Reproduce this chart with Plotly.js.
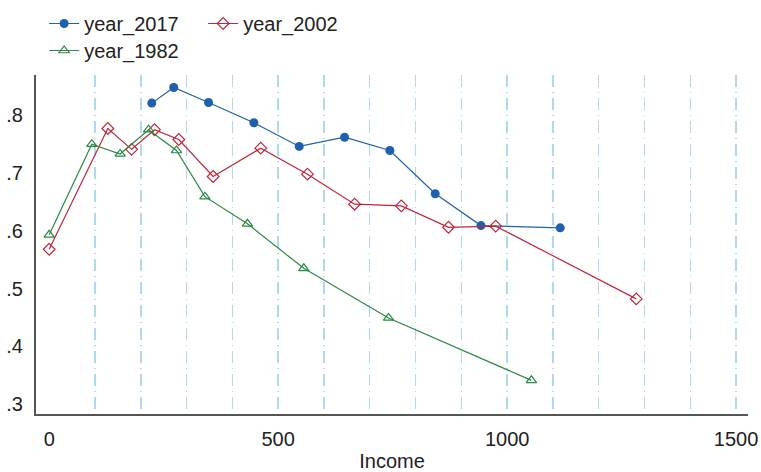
<!DOCTYPE html>
<html>
<head>
<meta charset="utf-8">
<script src="https://cdn.plot.ly/plotly-3.0.1.min.js"></script>
<style>html,body{margin:0;padding:0;background:#fff;}#chart{width:761px;height:472px;}</style>
</head>
<body>
<div id="chart"></div>
<script>
var income_2017 = [224, 272, 348, 447, 546, 645, 744, 843, 943, 1116];
var share_2017  = [0.821, 0.848, 0.822, 0.787, 0.746, 0.762, 0.739, 0.664, 0.609, 0.605];
var income_2002 = [0, 128, 180, 230, 283, 358, 462, 564, 667, 769, 872, 975, 1282];
var share_2002  = [0.568, 0.777, 0.741, 0.775, 0.758, 0.694, 0.743, 0.698, 0.646, 0.643, 0.606, 0.608, 0.482];
var income_1982 = [0, 93, 155, 217, 278, 340, 433, 556, 741, 1053];
var share_1982  = [0.593, 0.750, 0.733, 0.775, 0.739, 0.659, 0.612, 0.535, 0.449, 0.341];

var seriesNames = ['year_2017', 'year_2002', 'year_1982'];
var xTickVals = [0, 500, 1000, 1500];
var xTickText = ['0', '500', '1000', '1500'];
var xGridVals = [100, 200, 300, 400, 500, 600, 700, 800, 900, 1000, 1100, 1200, 1300, 1400, 1500];
var yTickVals = [0.3, 0.4, 0.5, 0.6, 0.7, 0.8];
var yTickText = ['.3', '.4', '.5', '.6', '.7', '.8'];
var xTitle = 'Income';

var BLUE = '#1e60ad', RED = '#c2253a', GREEN = '#2b8a45';
var FONT = 'Liberation Sans, Arial, Helvetica, sans-serif';
var FS = 20;

var traces = [
  {x: income_2017, y: share_2017, name: seriesNames[0], type: 'scatter', mode: 'lines+markers',
   xaxis: 'x', yaxis: 'y',
   line: {color: BLUE, width: 1.2}, marker: {symbol: 'circle', size: 9, color: BLUE}, legend: 'legend'},
  {x: income_2002, y: share_2002, name: seriesNames[1], type: 'scatter', mode: 'lines+markers',
   xaxis: 'x', yaxis: 'y',
   line: {color: RED, width: 1.2}, marker: {symbol: 'diamond-open', size: 9, color: RED, line: {width: 1.2}}, legend: 'legend'},
  {x: income_1982, y: share_1982, name: seriesNames[2], type: 'scatter', mode: 'lines+markers',
   xaxis: 'x2', yaxis: 'y',
   line: {color: GREEN, width: 1.2}, marker: {symbol: 'triangle-up-open', size: 9, color: GREEN, line: {width: 1.2}}, legend: 'legend2'}
];

var xr = [-28.8, 1526];
var layout = {
  width: 761, height: 472,
  margin: {l: 36, r: 13, t: 75, b: 58},
  paper_bgcolor: '#fff', plot_bgcolor: '#fff',
  font: {family: FONT, size: FS, color: '#222'},
  showlegend: true,
  xaxis: {
    range: xr, tickmode: 'array', tickvals: xTickVals, ticktext: xTickText,
    showgrid: false, zeroline: false, showline: true, linecolor: '#555', linewidth: 2,
    ticks: '', ticklabelstandoff: 6, tickfont: {size: FS, color: '#222'},
    title: {text: xTitle, font: {size: FS, color: '#222'}, standoff: 7}
  },
  xaxis2: {
    overlaying: 'x', anchor: 'y', range: xr, tickmode: 'array', tickvals: xGridVals,
    showticklabels: false, ticks: '', showline: false, zeroline: false,
    showgrid: true, gridcolor: '#b0d9ea', gridwidth: 1.5, griddash: '12px,5px,1px,5px'
  },
  yaxis: {
    range: [0.2827, 0.8697], tickmode: 'array', tickvals: yTickVals, ticktext: yTickText,
    showgrid: false, zeroline: false, showline: true, linecolor: '#555', linewidth: 2,
    ticks: '', ticklabelstandoff: 7, tickfont: {size: FS, color: '#222'}
  },
  legend: {
    orientation: 'h', xref: 'container', yref: 'container', x: 0.058, y: 1 - 4/472,
    xanchor: 'left', yanchor: 'top', entrywidth: 114, entrywidthmode: 'pixels',
    font: {size: FS, color: '#222'}, bgcolor: 'rgba(0,0,0,0)', traceorder: 'normal'
  },
  legend2: {
    orientation: 'h', xref: 'container', yref: 'container', x: 0.058, y: 1 - 31/472,
    xanchor: 'left', yanchor: 'top',
    font: {size: FS, color: '#222'}, bgcolor: 'rgba(0,0,0,0)'
  }
};

Plotly.newPlot('chart', traces, layout, {displayModeBar: false, staticPlot: true});
</script>
</body>
</html>
